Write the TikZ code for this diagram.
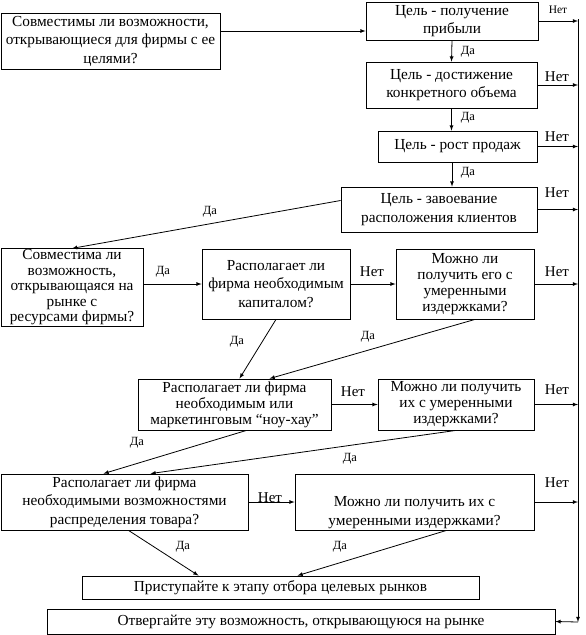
\documentclass[tikz,border=0pt]{standalone}
\usepackage{fontspec}
\setmainfont{Liberation Serif}
\usetikzlibrary{arrows,positioning}

\begin{document}
\begin{tikzpicture}[x=1pt,y=-1pt,
  every node/.style={font=\fontsize{15.3}{18.5}\selectfont},
  box/.style={draw,rectangle,align=center,inner sep=1pt,line width=0.8pt},
  yes/.style={font=\fontsize{12.5}{14}\selectfont,inner sep=0pt},
  no/.style={font=\fontsize{15}{16}\selectfont,inner sep=0pt},
  arr/.style={-latex,line width=0.8pt}
]
\useasboundingbox (0,0) rectangle (586,635);

% the goal boxes
\node[box,minimum width=219pt,minimum height=56pt] (A) at (110.5,41)
  {Совместимы ли возможности,\\открывающиеся для фирмы с ее\\целями?};
\node[box,minimum width=172pt,minimum height=38pt] (B) at (452,21)
  {Цель - получение\\прибыли};
\node[box,minimum width=171pt,minimum height=46pt] (C) at (451.5,85)
  {Цель - достижение\\конкретного объема};
\node[box,minimum width=159pt,minimum height=31pt] (D) at (457.5,146.5)
  {Цель - рост продаж};
\node[box,minimum width=196pt,minimum height=45pt] (E) at (439,209.5)
  {Цель - завоевание\\расположения клиентов};

% the resource boxes
\node[box,minimum width=142pt,minimum height=77pt,
  font=\fontsize{15.3}{15.5}\selectfont] (F) at (72,287.5)
  {Совместима ли\\возможность,\\открывающаяся на\\рынке с\\ресурсами фирмы?};
\node[box,minimum width=148pt,minimum height=70pt] (G) at (276,284)
  {Располагает ли\\фирма необходимым\\капиталом?};
\node[box,minimum width=138pt,minimum height=70pt,
  font=\fontsize{15.3}{16}\selectfont] (H) at (465,284)
  {Можно ли\\получить его с\\умеренными\\издержками?};
\node[box,minimum width=193pt,minimum height=51pt,
  font=\fontsize{15.3}{16}\selectfont] (I) at (234.5,404.5)
  {Располагает ли фирма\\необходимым или\\маркетинговым “ноу-хау”};
\node[box,minimum width=156pt,minimum height=51pt,
  font=\fontsize{15.3}{16}\selectfont] (J) at (456,404.5)
  {Можно ли получить\\их с умеренными\\издержками?};
\node[box,minimum width=247pt,minimum height=56pt] (K) at (124.5,502)
  {Располагает ли фирма\\необходимыми возможностями\\распределения товара?};
\node[box,minimum width=239pt,minimum height=56pt] (L) at (414.5,502)
  {\strut\\Можно ли получить их с\\умеренными издержками?};

% the outcomes
\node[box,minimum width=397pt,minimum height=23pt] (M) at (280.5,587.5)
  {Приступайте к этапу отбора целевых рынков};
\node[box,minimum width=508pt,minimum height=25pt] (N) at (301,621.5)
  {Отвергайте эту возможность, открывающуюся на рынке};

% the reject line
\coordinate (rtop) at (578,19);
\coordinate (rbot) at (578,622);
\draw[arr] (rtop) -- (rbot);
\draw[arr] (rbot) -- (N.east);
\foreach \n in {B,C,D,E,H,J,L}
  \draw[arr] (\n.east) -- (\n.east -| rtop);

% the yes edges
\draw[arr] ([yshift=10pt]A.east) -- ([yshift=10pt]A.east -| B.west);
\draw[arr] (B.south) -- (C.north);
\draw[arr] (C.south) -- (C.south |- D.north);
\draw[arr] (B.south |- D.south) -- (B.south |- E.north);
\draw[arr] ([yshift=9pt]E.west) -- (F.north);
\draw[arr] (F.east |- G.west) -- (G.west);
\draw[arr] (G.south) -- ([xshift=5pt]I.north);
\draw[arr] ([xshift=10pt]H.south) -- ([xshift=35pt]I.north);
\draw[arr] ([xshift=12pt]I.south) -- ([xshift=-21pt]K.north);
\draw[arr] (J.south) -- ([xshift=26pt]K.north);
\draw[arr] ([xshift=4pt]K.south) -- ([xshift=-82pt]M.north);
\draw[arr] ([xshift=32pt]L.south) -- ([xshift=17pt]M.north);

% the no edges
\draw[arr] (G.east |- H.east) -- (H.west |- H.east);
\draw[arr] (I.east) -- (J.west);
\draw[arr] (K.east) -- (L.west);

%label answers
\node[no,font=\fontsize{11.5}{13}\selectfont] (n1) at (558,10) {Нет};
\node[no] (n2) at (557,77) {Нет};
\node[no] (n3) at (557,137) {Нет};
\node[no] (n4) at (557,193) {Нет};
\node[no] (n5) at (557,272) {Нет};
\node[no] (n6) at (557,390) {Нет};
\node[no] (n7) at (557,483) {Нет};
\node[no] (n8) at (372,272) {Нет};
\node[no] (n9) at (353,392) {Нет};
\node[no] (n10) at (270,498) {Нет};
\node[yes] (y1) at (468,52) {Да};
\node[yes] (y2) at (468,118) {Да};
\node[yes] (y3) at (468,173) {Да};
\node[yes] (y4) at (210,212) {Да};
\node[yes] (y5) at (163,272) {Да};
\node[yes] (y6) at (237,342) {Да};
\node[yes] (y7) at (368,337) {Да};
\node[yes] (y8) at (137,443) {Да};
\node[yes] (y9) at (350,459) {Да};
\node[yes] (y10) at (183,547) {Да};
\node[yes] (y11) at (340,547) {Да};

\end{tikzpicture}
\end{document}
